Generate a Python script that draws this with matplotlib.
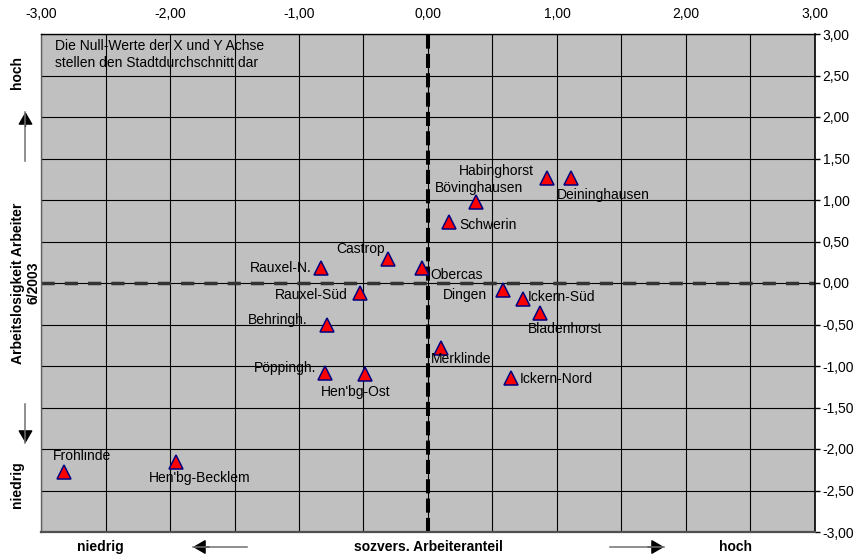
import numpy as np
import matplotlib
matplotlib.use("Agg")
import matplotlib.pyplot as plt
from matplotlib.lines import Line2D
from matplotlib.ticker import MultipleLocator, FuncFormatter

plt.rcParams['font.family'] = ['Liberation Sans', 'DejaVu Sans']

# Stadtteile: sozvers. Arbeiteranteil (x) / Arbeitslosigkeit Arbeiter (y), z-Werte
names = ["Habinghorst", "Deininghausen", "Bövinghausen", "Schwerin", "Obercas",
         "Castrop", "Rauxel-N.", "Rauxel-Süd", "Dingen", "Ickern-Süd",
         "Bladenhorst", "Behringh.", "Merklinde", "Pöppingh.", "Hen'bg-Ost",
         "Ickern-Nord", "Frohlinde", "Hen'bg-Becklem"]
x_vals = [0.92, 1.11, 0.37, 0.16, -0.05,
          -0.31, -0.83, -0.53, 0.58, 0.74,
          0.87, -0.78, 0.10, -0.80, -0.49,
          0.64, -2.82, -1.95]
y_vals = [1.26, 1.26, 0.98, 0.73, 0.18,
          0.29, 0.18, -0.12, -0.09, -0.19,
          -0.36, -0.50, -0.78, -1.08, -1.10,
          -1.14, -2.28, -2.16]

# label placement: (dx, dy) in points, horizontal alignment
label_pos = {
    "Habinghorst": (-9, 5, "right"),
    "Deininghausen": (-10, -12, "left"),
    "Bövinghausen": (2, 10, "center"),
    "Schwerin": (8, -2, "left"),
    "Obercas": (6.5, -5, "left"),
    "Castrop": (-2, 7, "right"),
    "Rauxel-N.": (-7, 0, "right"),
    "Rauxel-Süd": (-8.5, -1.5, "right"),
    "Dingen": (-11.5, -3.5, "right"),
    "Ickern-Süd": (3, 1, "left"),
    "Bladenhorst": (18, -11.5, "center"),
    "Behringh.": (-14, 3.5, "right"),
    "Merklinde": (-7, -8, "left"),
    "Pöppingh.": (-6.5, 3.5, "right"),
    "Hen'bg-Ost": (-6.5, -13, "center"),
    "Ickern-Nord": (6.5, -1, "left"),
    "Frohlinde": (-8.5, 12, "left"),
    "Hen'bg-Becklem": (-20, -11.5, "left"),
}

fig = plt.figure(figsize=(8.62, 5.6), dpi=100)
ax = fig.add_axes([41 / 862, 28 / 560, 774 / 862, 498 / 560])
ax.set_facecolor("#C0C0C0")

ax.set_xlim(-3, 3)
ax.set_ylim(-3, 3)

fmt = FuncFormatter(lambda v, p: f"{v:.2f}".replace(".", ","))
ax.xaxis.set_major_locator(MultipleLocator(1.0))
ax.xaxis.set_minor_locator(MultipleLocator(0.5))
ax.yaxis.set_major_locator(MultipleLocator(0.5))
ax.xaxis.set_major_formatter(fmt)
ax.yaxis.set_major_formatter(fmt)

ax.xaxis.tick_top()
ax.yaxis.tick_right()
ax.tick_params(axis="x", which="both", length=0, pad=9, labelsize=10)
ax.tick_params(axis="y", which="major", direction="out", length=3.5, width=1,
               pad=2, labelsize=10, color="black")

ax.grid(True, which="both", color="black", linewidth=0.8)
ax.set_axisbelow(True)

for side, col, lw in [("top", "black", 1.0), ("left", "#606060", 1.0),
                      ("bottom", "#505050", 1.6), ("right", "black", 1.2)]:
    ax.spines[side].set_color(col)
    ax.spines[side].set_linewidth(lw)

# Stadtdurchschnitt
ax.axhline(0, color="#333333", linewidth=2.5, dashes=(3.8, 2.9), zorder=2)
ax.axvline(0, color="black", linewidth=2.9, dashes=(3.5, 1.3), zorder=2)

ax.plot(x_vals, y_vals, linestyle="none", marker="^", markersize=9.5,
        markerfacecolor="red", markeredgecolor="#000080", markeredgewidth=1.1,
        zorder=5)

for n, xv, yv in zip(names, x_vals, y_vals):
    dx, dy, ha = label_pos[n]
    ax.annotate(n, (xv, yv), xytext=(dx, dy), textcoords="offset points",
                ha=ha, va="center", fontsize=10, color="black", zorder=6)

ax.text(0.018, 0.99, "Die Null-Werte der X und Y Achse\nstellen den Stadtdurchschnitt dar",
        transform=ax.transAxes, ha="left", va="top", fontsize=10,
        linespacing=1.25, zorder=6)

# Achsenbeschriftungen mit Richtungspfeilen
fs = dict(fontsize=10, fontweight="bold")
fig.text(0.116, 0.023, "niedrig", ha="center", va="center", **fs)
fig.text(0.4965, 0.023, "sozvers. Arbeiteranteil", ha="center", va="center", **fs)
fig.text(0.8527, 0.023, "hoch", ha="center", va="center", **fs)

fig.text(0.0197, 0.8714, "hoch", rotation=90, ha="center", va="center", **fs)
fig.text(0.030, 0.4946, "Arbeitslosigkeit Arbeiter\n6/2003", rotation=90,
         ha="center", va="center", multialignment="center", **fs)
fig.text(0.0197, 0.134, "niedrig", rotation=90, ha="center", va="center", **fs)

head = dict(arrowstyle="-|>,head_length=0.55,head_width=0.32", color="black",
            lw=1, mutation_scale=14, shrinkA=0, shrinkB=0)


def direction_arrow(x0, y0, x1, y1):
    # grey shaft, black head; coordinates in figure pixels
    W, H = 862.0, 560.0
    fig.add_artist(Line2D([x0 / W, x1 / W], [1 - y0 / H, 1 - y1 / H],
                          transform=fig.transFigure, color="#707070", lw=1.1))
    ax.annotate("", xy=(x1 / W, 1 - y1 / H),
                xytext=(x1 / W + (x0 - x1) / W * 0.3, 1 - y1 / H - (y0 - y1) / H * 0.3),
                xycoords="figure fraction", arrowprops=head, annotation_clip=False)


direction_arrow(247, 547, 193, 547)
direction_arrow(610, 547, 664, 547)
direction_arrow(25.5, 161, 25.5, 112)
direction_arrow(25.5, 404, 25.5, 443)

fig.savefig("out.png", dpi=100, facecolor="white")
